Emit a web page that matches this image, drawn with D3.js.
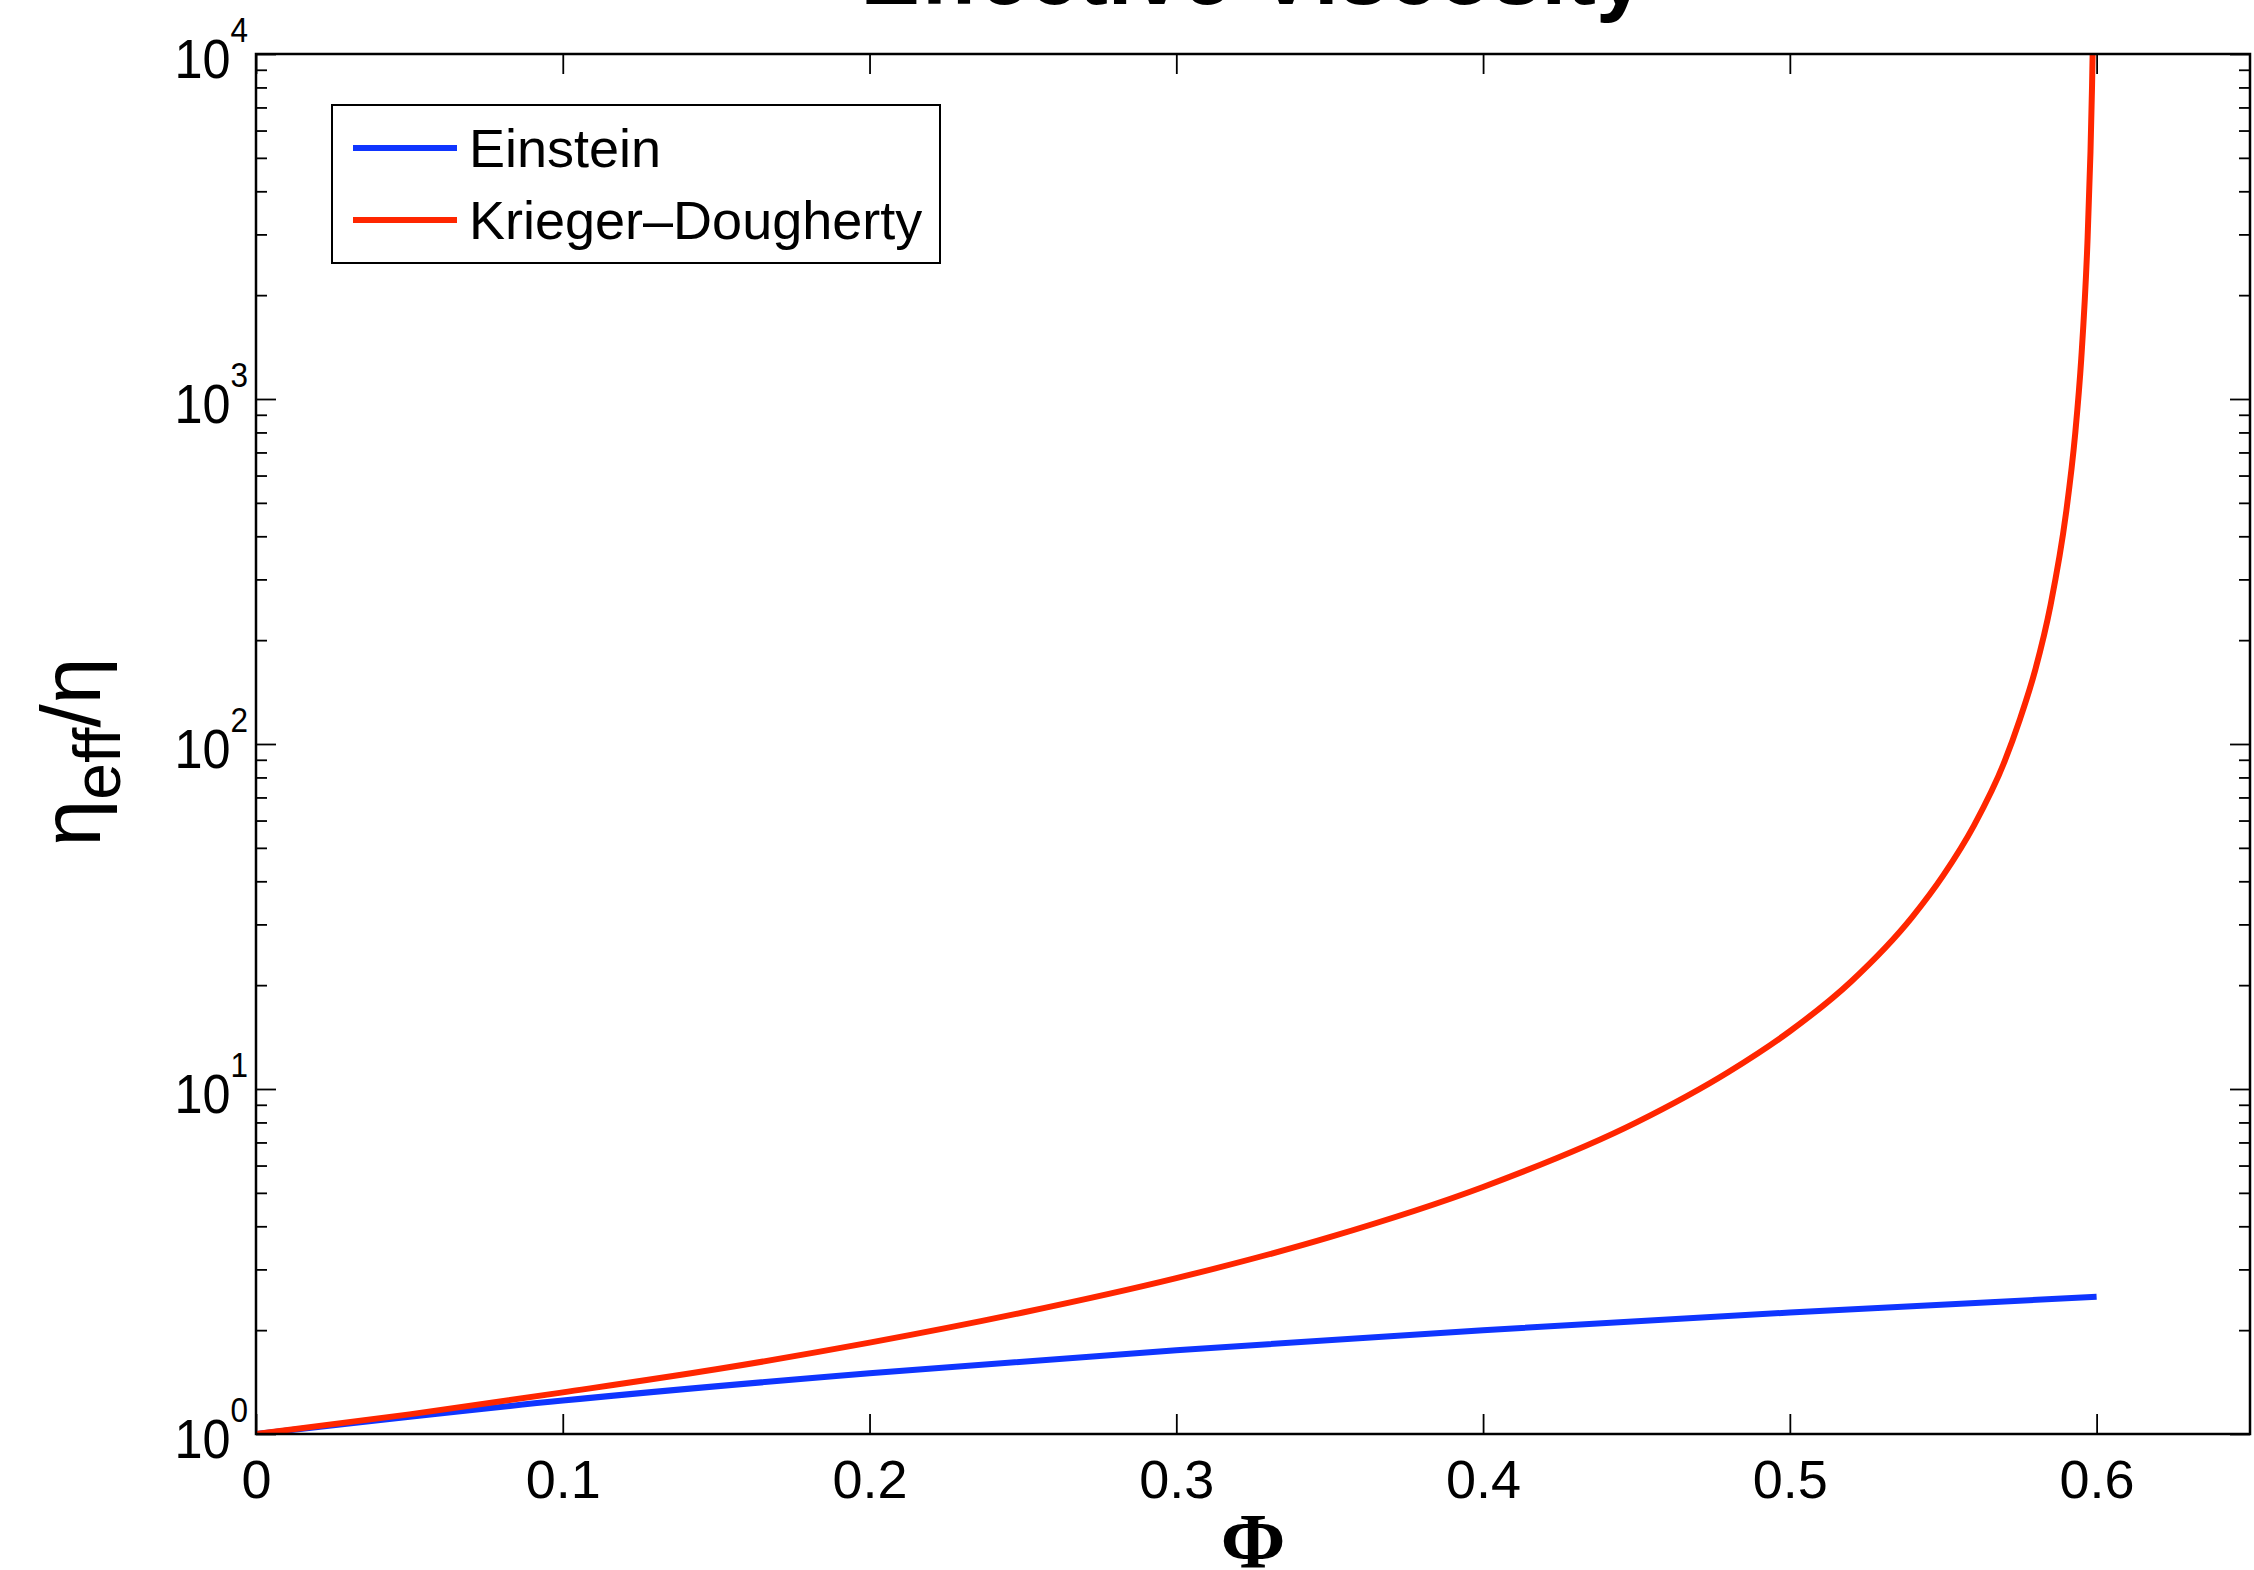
<!DOCTYPE html>
<html>
<head>
<meta charset="utf-8">
<script src="https://cdn.jsdelivr.net/npm/d3@7"></script>
<style>
  body { margin: 0; background: #fff; }
  svg { display: block; }
</style>
</head>
<body>
<div id="container"></div>
<script>
// valores
var phiEinstein = [0, 0.1, 0.2, 0.3, 0.4, 0.5, 0.6]
var einstein = [1, 1.25, 1.5, 1.75, 2.0, 2.25, 2.5]

var phiKD = [0, 0.05, 0.1, 0.15, 0.2, 0.25, 0.3, 0.35, 0.4, 0.45, 0.48, 0.5, 0.52, 0.54, 0.55, 0.56, 0.57, 0.575, 0.58, 0.585, 0.59, 0.593, 0.595, 0.597, 0.598, 0.5985, 0.5988]
var kriegerDougherty = [1, 1.14, 1.32, 1.54, 1.84, 2.25, 2.83, 3.72, 5.2, 8.0, 11.2, 14.7, 20.5, 31.6, 41.6, 58, 89, 118, 164, 253, 465, 790, 1310, 2830, 5200, 8000, 11200]

var xTicks = [0, 0.1, 0.2, 0.3, 0.4, 0.5, 0.6]
var xTickLabels = ["0", "0.1", "0.2", "0.3", "0.4", "0.5", "0.6"]
var yExponents = [0, 1, 2, 3, 4]
var seriesNames = ["Einstein", "Krieger\u2013Dougherty"]

var ancho = 2254, alto = 1570
var izq = 256, der = 2250, arriba = 54, abajo = 1434
var azul = "#0f35ff", rojo = "#ff2600"
var fuente = "Liberation Sans, Arial, Helvetica, sans-serif"

var svg = d3.select("#container").append("svg")
  .attr("width", ancho)
  .attr("height", alto)

var x = d3.scaleLinear().domain([0, 0.65]).range([izq, der])
var y = d3.scaleLog().domain([1, 10000]).range([abajo, arriba])

// todas las marcas del eje log (mayores y menores)
var yAll = []
yExponents.forEach(function (e) {
  for (var m = 1; m < 10; m++) {
    var v = m * Math.pow(10, e)
    if (v <= 10000) yAll.push(v)
  }
})
function isMajor(v) { return Math.abs(Math.log10(v) - Math.round(Math.log10(v))) < 1e-9 }

// ejes
var gBottom = svg.append("g").attr("transform", "translate(0," + abajo + ")")
  .call(d3.axisBottom(x).tickValues(xTicks).tickSizeInner(-20).tickSizeOuter(0)
    .tickFormat(function (d, i) { return xTickLabels[i] }))
gBottom.selectAll("text").attr("y", 64).attr("dy", 0)
  .style("font-family", fuente).style("font-size", "54px").attr("fill", "#000")

svg.append("g").attr("transform", "translate(0," + arriba + ")")
  .call(d3.axisTop(x).tickValues(xTicks).tickSizeInner(-20).tickSizeOuter(0).tickFormat(""))

var gLeft = svg.append("g").attr("transform", "translate(" + izq + ",0)")
  .call(d3.axisLeft(y).tickValues(yAll).tickSizeInner(-20).tickSizeOuter(0).tickFormat(""))
var gRight = svg.append("g").attr("transform", "translate(" + der + ",0)")
  .call(d3.axisRight(y).tickValues(yAll).tickSizeInner(-20).tickSizeOuter(0).tickFormat(""))
gLeft.selectAll(".tick line").attr("x2", function (d) { return isMajor(d) ? 20 : 11 })
gRight.selectAll(".tick line").attr("x2", function (d) { return isMajor(d) ? -20 : -11 })

svg.selectAll(".domain").remove()
svg.selectAll(".tick line").attr("stroke", "#000").attr("stroke-width", 1.8)

// etiquetas 10^k
var yLab = svg.append("g")
  .style("font-family", fuente)
  .attr("fill", "#000")
yExponents.forEach(function (e) {
  var t = yLab.append("text")
    .attr("transform", "translate(248," + (y(Math.pow(10, e)) + 24) + ") scale(0.9,1)")
    .attr("text-anchor", "end")
  t.append("tspan").style("font-size", "56px").text("10")
  t.append("tspan").style("font-size", "35px").attr("dy", -36).text(e)
})

// curvas
svg.append("clipPath").attr("id", "clip")
  .append("rect").attr("x", izq).attr("y", arriba).attr("width", der - izq).attr("height", abajo - arriba)

var linea = d3.line()
  .x(function (d) { return x(d[0]) })
  .y(function (d) { return y(d[1]) })
  .curve(d3.curveMonotoneX)

svg.append("path")
  .datum(phiEinstein.map(function (p, i) { return [p, einstein[i]] }))
  .attr("d", linea)
  .attr("fill", "none").attr("stroke", azul).attr("stroke-width", 6)
  .attr("clip-path", "url(#clip)")

svg.append("path")
  .datum(phiKD.map(function (p, i) { return [p, kriegerDougherty[i]] }))
  .attr("d", linea)
  .attr("fill", "none").attr("stroke", rojo).attr("stroke-width", 6)
  .attr("clip-path", "url(#clip)")

// marco
svg.append("rect")
  .attr("x", izq).attr("y", arriba).attr("width", der - izq).attr("height", abajo - arriba)
  .attr("fill", "none").attr("stroke", "#000").attr("stroke-width", 2.5)

// leyenda
var leyenda = svg.append("g")
leyenda.append("rect")
  .attr("x", 332).attr("y", 105).attr("width", 608).attr("height", 158)
  .attr("fill", "#fff").attr("stroke", "#000").attr("stroke-width", 2)
var colores = [azul, rojo]
seriesNames.forEach(function (n, i) {
  var yy = 148 + i * 72
  leyenda.append("line").attr("x1", 353).attr("x2", 457).attr("y1", yy).attr("y2", yy)
    .attr("stroke", colores[i]).attr("stroke-width", 6)
  leyenda.append("text").attr("x", 469).attr("y", yy + 19)
    .style("font-family", fuente).style("font-size", "54px")
    .text(n)
})

// titulo (cortado arriba)
svg.append("text")
  .attr("x", (izq + der) / 2).attr("y", 4)
  .attr("text-anchor", "middle")
  .style("font-family", fuente).style("font-size", "89px").style("font-weight", "bold")
  .text("Effective Viscosity")

// titulos de ejes
svg.append("text")
  .attr("x", (izq + der) / 2).attr("y", 1567)
  .attr("text-anchor", "middle")
  .style("font-family", "Liberation Serif, Times New Roman, serif").style("font-size", "78px").style("font-weight", "bold")
  .text("\u03A6")

var yTitle = svg.append("text")
  .attr("transform", "translate(100," + 752 + ") rotate(-90)")
  .attr("text-anchor", "middle")
  .style("font-family", fuente)
yTitle.append("tspan").style("font-size", "84px").text("\u03B7")
yTitle.append("tspan").style("font-size", "66px").attr("dy", 20).text("eff")
yTitle.append("tspan").style("font-size", "84px").attr("dy", -20).text("/\u03B7")
</script>
</body>
</html>
